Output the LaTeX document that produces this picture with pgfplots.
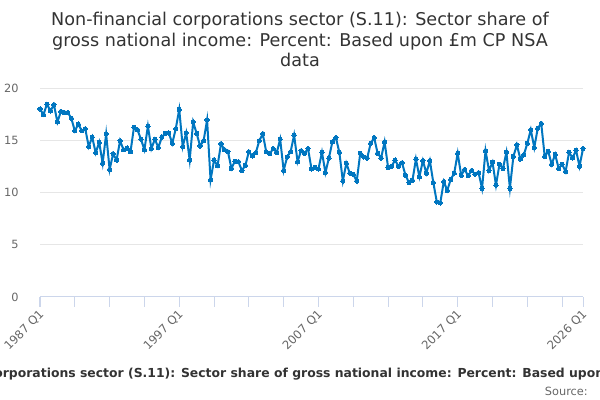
\documentclass[border=0pt]{standalone}
\usepackage{fontspec}
\setmainfont{DejaVu Sans}
\usepackage{pgfplots}
\pgfplotsset{compat=1.18}
\definecolor{linecol}{RGB}{0,118,192}
\definecolor{gridcol}{RGB}{230,230,230}
\definecolor{axiscol}{RGB}{204,214,235}
\definecolor{labcol}{RGB}{102,102,102}
\definecolor{titlecol}{RGB}{51,51,51}
\begin{document}
\begin{tikzpicture}[x=0.75pt,y=0.75pt]
\useasboundingbox (0,0) rectangle (600,400);
\clip (0,0) rectangle (600,400);
\begin{axis}[at={(30pt,77.25pt)}, anchor=south west, scale only axis,
  width=407.25pt, height=156.75pt,
  xmin=0, xmax=156, ymin=0, ymax=20,
  ytick={0,5,10,15,20},
  xtick={0,10,20,30,40,50,60,70,80,90,100,110,120,130,140,150,156},
  xticklabels={1987 Q1,,,,1997 Q1,,,,2007 Q1,,,,2017 Q1,,,,2026 Q1},
  axis x line*=bottom, axis y line*=left,
  x axis line style={draw=axiscol, line width=0.75pt},
  y axis line style={draw=none},
  x tick style={draw=axiscol, line width=0.75pt},
  y tick style={draw=none},
  tick align=outside, major tick length=7.5pt,
  ymajorgrids, grid style={draw=gridcol, line width=0.75pt},
  /pgf/number format/assume math mode=true,
  yticklabel style={font=\fontsize{8.5}{10}\selectfont, text=labcol, xshift=-5pt},
  xticklabel style={font=\fontsize{8.75}{10}\selectfont, text=labcol, rotate=45, anchor=east, yshift=-4pt, xshift=1.5pt},
  clip=false,
]
\addplot[color=linecol, line width=1.5pt, mark=*, mark size=1.6pt, mark options={fill=linecol, draw=linecol, line width=0pt}] coordinates {
(0,18.0) (1,17.45) (2,18.45) (3,17.8) (4,18.4) (5,16.75) (6,17.75) (7,17.65) (8,17.65) (9,17.1)
(10,15.9) (11,16.55) (12,15.9) (13,16.1) (14,14.4) (15,15.3) (16,13.8) (17,14.8) (18,12.8) (19,15.6)
(20,12.2) (21,13.7) (22,13.1) (23,14.95) (24,14.1) (25,14.25) (26,13.9) (27,16.25) (28,16.0) (29,15.1)
(30,14.1) (31,16.35) (32,14.2) (33,15.1) (34,14.3) (35,15.3) (36,15.65) (37,15.7) (38,14.7) (39,16.1)
(40,17.95) (41,14.4) (42,15.7) (43,13.1) (44,16.75) (45,15.65) (46,14.45) (47,14.95) (48,16.95) (49,11.2)
(50,13.1) (51,12.55) (52,14.65) (53,14.1) (54,13.9) (55,12.3) (56,13.0) (57,12.95) (58,12.1) (59,12.6)
(60,13.9) (61,13.5) (62,13.8) (63,14.95) (64,15.6) (65,13.9) (66,13.7) (67,14.2) (68,13.8) (69,15.1)
(70,12.1) (71,13.4) (72,13.9) (73,15.5) (74,12.95) (75,14.0) (76,13.75) (77,14.2) (78,12.25) (79,12.4)
(80,12.25) (81,13.85) (82,11.9) (83,13.3) (84,14.85) (85,15.25) (86,13.85) (87,11.1) (88,12.8) (89,11.85)
(90,11.75) (91,11.1) (92,13.75) (93,13.4) (94,13.3) (95,14.7) (96,15.25) (97,13.75) (98,13.3) (99,14.85)
(100,12.4) (101,12.5) (102,13.1) (103,12.5) (104,12.85) (105,11.65) (106,10.95) (107,11.15) (108,13.2) (109,11.5)
(110,13.05) (111,11.85) (112,13.05) (113,10.95) (114,9.1) (115,9.0) (116,11.05) (117,10.2) (118,11.25) (119,11.85)
(120,13.75) (121,11.65) (122,12.2) (123,11.6) (124,12.1) (125,11.75) (126,11.9) (127,10.4) (128,14.0) (129,12.1)
(130,12.9) (131,10.7) (132,12.7) (133,12.3) (134,13.85) (135,10.4) (136,13.45) (137,14.55) (138,13.2) (139,13.6)
(140,14.7) (141,16.0) (142,14.3) (143,16.15) (144,16.6) (145,13.45) (146,13.95) (147,12.7) (148,13.65) (149,12.3)
(150,12.7) (151,12.0) (152,13.85) (153,13.3) (154,14.05) (155,12.5) (156,14.2)
};
\end{axis}
\node[anchor=base, font=\fontsize{13.2}{15}\selectfont, text=titlecol] at (300,374) {Non-financial corporations sector (S.11): Sector share of};
\node[anchor=base, font=\fontsize{13.2}{15}\selectfont, text=titlecol] at (300,353) {gross national income: Percent: Based upon £m CP NSA};
\node[anchor=base, font=\fontsize{13.2}{15}\selectfont, text=titlecol] at (300,333) {data};
\node[anchor=base, font=\bfseries\fontsize{9.3}{11}\selectfont, text=titlecol] at (306,22) {Non-financial corporations sector (S.11): Sector share of gross national income: Percent: Based upon £m CP NSA data};
\node[anchor=base east, font=\fontsize{8.5}{10}\selectfont, text=labcol, inner sep=0pt] at (588,5) {Source:};
\end{tikzpicture}
\end{document}
